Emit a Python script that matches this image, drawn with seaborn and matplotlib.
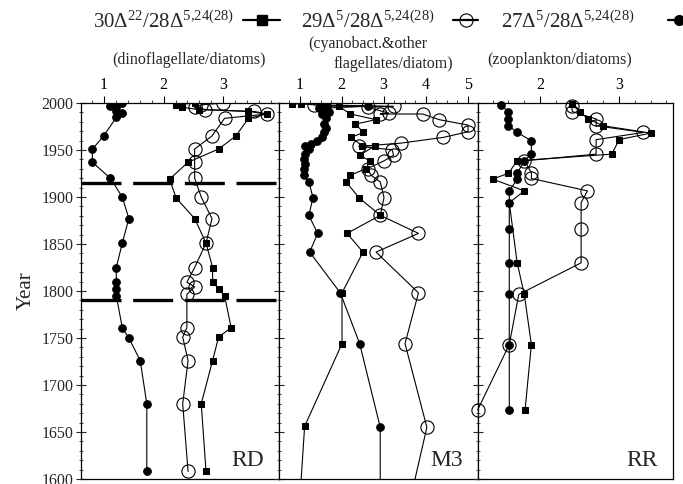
import numpy as np
import pandas as pd
import matplotlib
matplotlib.use("Agg")
import matplotlib.pyplot as plt
import matplotlib.transforms as mtransforms
from matplotlib.lines import Line2D
from matplotlib.ticker import MultipleLocator
import seaborn as sns

sns.set_theme(style="ticks")
plt.rcParams["font.family"] = ["Liberation Serif", "DejaVu Serif"]
plt.rcParams["mathtext.default"] = "regular"

# ---------------- data ----------------
# RD core
rd_c27_year = [2000, 1998, 1996.5, 1995.4, 1991.8, 1989.3, 1984.7, 1965, 1951, 1937, 1920, 1900,
               1877, 1851, 1825, 1810, 1802, 1795, 1761, 1750, 1726, 1680, 1608]
rd_c27_val = [1.31, 1.21, 1.10, 1.21, 1.20, 1.31, 1.21, 1.00, 0.81, 0.81, 1.11, 1.31,
              1.42, 1.31, 1.21, 1.21, 1.21, 1.21, 1.31, 1.42, 1.61, 1.72, 1.72]
rd_c30_year = [2000, 1998, 1995.4, 1993, 1991, 1988.3, 1983.7, 1965, 1951, 1937, 1919, 1899,
               1877, 1851, 1825, 1810, 1802, 1795, 1761, 1751, 1726, 1680, 1608]
rd_c30_val = [2.52, 2.21, 2.31, 2.59, 3.41, 3.73, 3.42, 3.21, 2.92, 2.41, 2.10, 2.21,
              2.52, 2.71, 2.82, 2.82, 2.92, 3.02, 3.13, 2.92, 2.82, 2.63, 2.71]
rd_c29_year = [2000, 1998, 1995.4, 1993, 1991, 1988.3, 1983.7, 1965, 1951, 1937, 1920, 1900,
               1877, 1851, 1825, 1809.4, 1804.5, 1796.3, 1761, 1751, 1726, 1680, 1608]
rd_c29_val = [3.00, 2.63, 2.52, 2.70, 3.52, 3.73, 3.02, 2.81, 2.52, 2.52, 2.52, 2.63,
              2.81, 2.71, 2.52, 2.39, 2.52, 2.39, 2.39, 2.32, 2.41, 2.32, 2.41]

# M3 core (last entry of each series lies below 1600, outside the plotted range)
m3_c27_year = [1999, 1997, 1996.5, 1994.3, 1992.9, 1990, 1988.3, 1983.7, 1977.6, 1973, 1968.7,
               1963.4, 1959.8, 1956.3, 1953.8, 1951, 1945.6, 1940.3, 1935, 1929.6, 1923.2, 1916,
               1899.4, 1880.5, 1861.3, 1841.4, 1798, 1744, 1655, 1540]
m3_c27_val = [1.51, 1.66, 2.62, 1.46, 1.58, 1.70, 1.54, 1.62, 1.58, 1.62, 1.58,
              1.54, 1.42, 1.26, 1.14, 1.22, 1.14, 1.10, 1.14, 1.10, 1.10, 1.22,
              1.32, 1.22, 1.43, 1.24, 1.97, 2.43, 2.92, 2.92]
m3_c30_year = [1999, 1999, 1996.5, 1988.3, 1982.3, 1977.6, 1968.7, 1963.4, 1954.5, 1954.5,
               1944.5, 1938.5, 1930.3, 1923.2, 1916, 1899.4, 1880.5, 1861.3, 1841.4, 1798,
               1744, 1656, 1540]
m3_c30_val = [0.83, 1.04, 1.93, 2.21, 2.82, 2.33, 2.52, 2.23, 2.49, 2.80,
              2.43, 2.67, 2.59, 2.21, 2.11, 2.41, 2.92, 2.13, 2.51, 2.01,
              2.01, 1.12, 0.95]
m3_c29_year = [1998, 1996.5, 1995.4, 1989.3, 1988.3, 1988.3, 1982.3, 1976.5, 1969.4, 1963.4,
               1957.3, 1953.8, 1950.3, 1944.5, 1938.5, 1930.3, 1923.2, 1916, 1899.4, 1880.5,
               1861.3, 1841.4, 1798, 1744, 1655, 1540]
m3_c29_val = [1.34, 3.24, 2.62, 3.12, 2.92, 3.93, 4.32, 5.01, 5.01, 4.42,
              3.41, 2.41, 3.20, 3.24, 3.01, 2.62, 2.70, 2.92, 3.01, 2.92,
              3.83, 2.82, 3.83, 3.51, 4.03, 3.44]

# RR core
rr_c27_year = [1998, 1990.8, 1983, 1975.8, 1968.7, 1959.8, 1945.6, 1938.5, 1925.3, 1919,
               1906.5, 1894, 1865.6, 1830, 1796.3, 1743, 1673.6]
rr_c27_val = [1.50, 1.60, 1.60, 1.60, 1.71, 1.89, 1.89, 1.80, 1.71, 1.71,
              1.61, 1.61, 1.61, 1.61, 1.61, 1.61, 1.61]
rr_c30_year = [1999, 1990, 1983, 1975.8, 1968, 1961, 1945.6, 1938.5, 1925.3, 1919,
               1906.5, 1894, 1830, 1796.3, 1743, 1673.6]
rr_c30_val = [2.40, 2.51, 2.61, 2.80, 3.40, 3.00, 2.91, 1.71, 1.60, 1.40,
              1.80, 1.61, 1.71, 1.80, 1.89, 1.81]
rr_c29_year = [1996.5, 1990.8, 1983, 1975.8, 1968.7, 1961, 1945.6, 1938.5, 1926, 1919.7,
               1906.5, 1894, 1865.6, 1830, 1796.3, 1743, 1673.6]
rr_c29_val = [2.40, 2.41, 2.71, 2.71, 3.31, 2.71, 2.71, 1.80, 1.89, 1.89,
              2.60, 2.52, 2.52, 2.52, 1.73, 1.61, 1.21]

boundary_years = [1915, 1790]
panel_names = ["RD", "M3", "RR"]
panel_subtitles = ["(dinoflagellate/diatoms)", "(cyanobact.&other", "(zooplankton/diatoms)"]
legend_labels = [r"$30\Delta^{22}/28\Delta^{5{,}24(28)}$",
                 r"$29\Delta^{5}/28\Delta^{5{,}24(28)}$",
                 r"$27\Delta^{5}/28\Delta^{5{,}24(28)}$"]

# ---------------- figure ----------------
W, H = 683, 484
fig = plt.figure(figsize=(W / 100, H / 100), dpi=100)
fig.patch.set_facecolor("white")

top_px, bot_px = 103, 479
panels_px = [(81, 279), (279, 477.7), (477.7, 672.7)]
axes = []
for (x0, x1) in panels_px:
    ax = fig.add_axes([x0 / W, 1 - bot_px / H, (x1 - x0) / W, (bot_px - top_px) / H])
    axes.append(ax)

xlims = [(0.62, 3.93), (0.51, 5.24), (1.21, 3.68)]
xmajor = [[1, 2, 3], [1, 2, 3, 4, 5], [2, 3]]
xminor = [0.2, 0.25, 0.2]

series = [
    [(rd_c30_year, rd_c30_val), (rd_c29_year, rd_c29_val), (rd_c27_year, rd_c27_val)],
    [(m3_c30_year, m3_c30_val), (m3_c29_year, m3_c29_val), (m3_c27_year, m3_c27_val)],
    [(rr_c30_year, rr_c30_val), (rr_c29_year, rr_c29_val), (rr_c27_year, rr_c27_val)],
]
styles = [
    dict(marker="s", markersize=4.8, markerfacecolor="black", markeredgecolor="black"),
    dict(marker="o", markersize=9.5, markerfacecolor="none", markeredgecolor="black",
         markeredgewidth=0.8),
    dict(marker="o", markersize=5.5, markerfacecolor="black", markeredgecolor="black"),
]

for i, ax in enumerate(axes):
    for j, (yr, val) in enumerate(series[i]):
        df = pd.DataFrame({"value": val, "year": yr})
        sns.lineplot(data=df, x="value", y="year", estimator=None, sort=False,
                     color="black", linewidth=0.8, ax=ax,
                     clip_on=(i != 2), **styles[j])
    ax.set_xlim(*xlims[i])
    ax.set_ylim(1600, 2000)
    ax.set_xlabel("")
    ax.set_ylabel("")
    ax.xaxis.tick_top()
    ax.set_xticks(xmajor[i])
    ax.xaxis.set_minor_locator(MultipleLocator(xminor[i]))
    ax.yaxis.set_major_locator(MultipleLocator(50))
    ax.yaxis.set_minor_locator(MultipleLocator(10))
    ax.tick_params(axis="x", which="major", direction="out", length=5, width=0.8,
                   labelsize=11.5, pad=2, colors="black")
    ax.tick_params(axis="x", which="minor", direction="out", length=2.5, width=0.6)
    ax.tick_params(axis="y", which="major", direction="inout", length=7, width=0.8,
                   labelsize=11.5, pad=2)
    ax.tick_params(axis="y", which="minor", direction="inout", length=3.5, width=0.6)
    if i > 0:
        ax.tick_params(axis="y", labelleft=False)
    for sp in ax.spines.values():
        sp.set_visible(True)
        sp.set_linewidth(0.9)
        sp.set_color("black")
    ax.text(0.925, 0.035, panel_names[i], transform=ax.transAxes, ha="right",
            va="baseline", fontsize=17)

axes[0].set_ylabel("Year", fontsize=15, labelpad=4)

# dashed boundary lines spanning the three panels
trans = mtransforms.blended_transform_factory(fig.transFigure, axes[0].transData)
for yb in boundary_years:
    axes[0].plot([81 / W, 672.7 / W], [yb, yb], transform=trans, clip_on=False,
                 color="black", linewidth=2.4, linestyle=(0, (12, 3.5)), zorder=5)

# panel subtitles
fig.text(189 / W, 1 - 60 / H, panel_subtitles[0], ha="center", va="center", fontsize=11.5)
fig.text(368 / W, 1 - 44 / H, panel_subtitles[1], ha="center", va="center", fontsize=11.5)
fig.text(393 / W, 1 - 64 / H, "flagellates/diatom)", ha="center", va="center", fontsize=11.5)
fig.text(560 / W, 1 - 60 / H, panel_subtitles[2], ha="center", va="center", fontsize=11.5)

# legend (text followed by line/marker sample)
leg_text_x = [93, 301, 501]
leg_handle = [(243, 280), (453, 478), (668, 683)]
base_y = 1 - 28 / H
hy = 1 - 20 / H
for k in range(3):
    fig.text(leg_text_x[k] / W, base_y, legend_labels[k], ha="left", va="baseline",
             fontsize=15)
    hx0, hx1 = leg_handle[k]
    fig.add_artist(Line2D([hx0 / W, hx1 / W], [hy, hy], transform=fig.transFigure,
                          color="black", linewidth=1.6))
    mx = (hx0 + hx1) / 2 if k < 2 else 679
    st = dict(styles[k])
    if k == 0:
        st["markersize"] = 6.5
    if k == 2:
        st["markersize"] = 7
    fig.add_artist(Line2D([mx / W], [hy], transform=fig.transFigure, linestyle="none",
                          **st))

fig.savefig("out.png", dpi=100)
